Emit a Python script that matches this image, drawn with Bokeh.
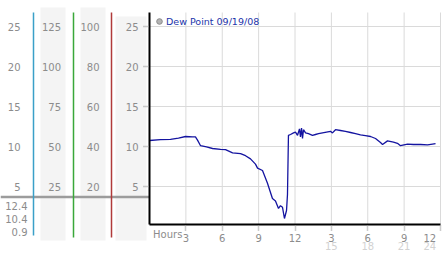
from bokeh.plotting import figure
from bokeh.models import (Range1d, LinearAxis, FixedTicker, Label, Legend,
                          LegendItem)
from bokeh.core.properties import value
from bokeh.embed import file_html
from bokeh.resources import INLINE

# ---------------- data ----------------
hours = [0.0, 0.91, 1.73, 2.39, 2.97, 3.55, 3.79, 3.96, 4.21, 4.70, 5.20, 5.86,
         6.27, 6.85, 7.51, 7.92, 8.33, 8.74, 8.91, 9.32, 9.73, 10.14, 10.39,
         10.64, 10.80, 10.97, 11.13, 11.30, 11.38, 11.46, 11.63, 11.88, 12.04,
         12.21, 12.37, 12.45, 12.54, 12.62, 12.70, 12.87, 13.11, 13.44, 13.69,
         13.94, 14.27, 14.60, 14.93, 15.09, 15.34, 15.75, 16.16, 16.58, 16.99,
         17.40, 17.81, 18.23, 18.64, 19.05, 19.22, 19.63, 20.12, 20.45, 20.70,
         21.28, 21.77, 22.35, 22.93, 23.34, 23.59]
dew_point = [10.75, 10.85, 10.9, 11.05, 11.25, 11.2, 11.2, 10.8, 10.1, 9.95, 9.75,
             9.65, 9.6, 9.2, 9.1, 8.85, 8.45, 7.8, 7.3, 7.0, 5.4, 3.5, 3.2, 2.25,
             2.6, 2.4, 1.0, 2.0, 4.0, 11.4, 11.5, 11.7, 11.8, 11.4, 12.2, 11.2,
             12.3, 11.0, 12.1, 11.7, 11.6, 11.4, 11.5, 11.6, 11.7, 11.8, 11.9,
             11.7, 12.1, 12.0, 11.9, 11.75, 11.6, 11.45, 11.35, 11.25, 11.0,
             10.5, 10.25, 10.7, 10.55, 10.4, 10.1, 10.3, 10.25, 10.25, 10.2,
             10.3, 10.35]

scale_c = [25, 20, 15, 10, 5]          # first column and plot axis
scale_2 = [125, 100, 75, 50, 25]
scale_3 = [100, 80, 60, 40, 20]
readings = ["12.4", "10.4", "0.9"]
x_ticks = [3, 6, 9, 12, 15, 18, 21, 24]
x_tick_labels = ["3", "6", "9", "12", "3", "6", "9", "12\u2007"]
x_ticks2 = [15, 18, 21, 24]
x_tick_labels2 = ["15", "18", "21", "24\u2007"]
legend_label = "Dew Point 09/19/08"

FONT = "DejaVu Sans"
GRAY = "#8c8c8c"
TICK_GRAY = "#9a9a9a"

# ---------------- layout constants (pixels) ----------------
W, H = 442, 253
PLOT_L, PLOT_R = 149, 440          # plot area in page pixels
PLOT_T, PLOT_B = 12, 224
HOURS = 24
Y_LO, Y_HI = 0.25, 26.75           # value span of the plot area
ppx = (PLOT_R - PLOT_L) / HOURS
ppy = (PLOT_B - PLOT_T) / (Y_HI - Y_LO)

def vy(pix):                       # page pixel row -> value on main scale
    return Y_HI + (PLOT_T - pix) / ppy

x_rng = Range1d(-PLOT_L / ppx, (W - PLOT_L) / ppx)
y_rng = Range1d(vy(H), vy(0))

p = figure(width=W, height=H, output_backend="svg", toolbar_location=None,
           x_range=x_rng, y_range=y_rng, min_border=0,
           outline_line_color=None)
p.grid.visible = False
p.extra_x_ranges = {"px": Range1d(0, W)}
p.extra_y_ranges = {"py": Range1d(H, 0)}
k2 = scale_2[0] / scale_c[0]
k3 = scale_3[0] / scale_c[0]
p.extra_y_ranges["s2"] = Range1d(vy(H) * k2, vy(0) * k2)
p.extra_y_ranges["s3"] = Range1d(vy(H) * k3, vy(0) * k3)

# ---- left panel backgrounds ----
p.quad(left=[40, 80, 115], right=[65, 105, 146], top=[7, 7, 16],
       bottom=[240, 240, 240], fill_color="#f4f4f4", line_color=None,
       x_range_name="px", y_range_name="py")
p.segment(x0=[0], x1=[PLOT_L], y0=[196.5], y1=[196.5], line_color="#9c9c9c",
          line_width=2.5, x_range_name="px", y_range_name="py")
p.text(x=[27] * len(readings), y=[205 + 13 * i for i in range(len(readings))],
       text=readings, text_font=value(FONT), text_font_size="10px",
       text_color=GRAY, text_align="right", text_baseline="middle",
       x_range_name="px", y_range_name="py")

def panel_axis(ticks, y_name, loc, color, bottom_px, k, standoff):
    ax = LinearAxis(ticker=FixedTicker(ticks=ticks), x_range_name="px",
                    fixed_location=loc,
                    bounds=(vy(bottom_px) * k, vy(PLOT_T) * k))
    if y_name:
        ax.y_range_name = y_name
    ax.axis_line_color = color
    ax.axis_line_width = 1.5
    ax.major_tick_in = 0
    ax.major_tick_out = 0
    ax.minor_tick_in = 0
    ax.minor_tick_out = 0
    ax.major_tick_line_color = None
    ax.minor_tick_line_color = None
    ax.major_label_standoff = standoff
    ax.major_label_text_font = FONT
    ax.major_label_text_font_size = "10px"
    ax.major_label_text_color = GRAY
    p.add_layout(ax, "left")

panel_axis(scale_c, None, 33, "#3aa0c8", 235, 1, 13)
panel_axis(scale_2, "s2", 72.5, "#3aa83a", 237, k2, 12)
panel_axis(scale_3, "s3", 111, "#b03a3a", 237, k3, 12)

# ---- main plot axes ----
ya = p.yaxis[0]
ya.fixed_location = 0
ya.bounds = (Y_LO, Y_HI)
ya.ticker = FixedTicker(ticks=scale_c)
ya.axis_line_color = "black"
ya.axis_line_width = 2
ya.major_tick_in = 0
ya.major_tick_out = 6
ya.major_tick_line_color = TICK_GRAY
ya.major_tick_line_width = 1.5
ya.major_tick_line_dash = "1 1"
ya.minor_tick_line_color = None
ya.major_label_standoff = 5
ya.major_label_text_font = FONT
ya.major_label_text_font_size = "10px"
ya.major_label_text_color = GRAY

xa = p.xaxis[0]
xa.fixed_location = Y_LO
xa.bounds = (0, HOURS)
xa.ticker = FixedTicker(ticks=x_ticks)
xa.major_label_overrides = {t: l for t, l in zip(x_ticks, x_tick_labels)}
xa.axis_line_color = "black"
xa.axis_line_width = 2
xa.major_tick_in = 0
xa.major_tick_out = 6
xa.major_tick_line_color = TICK_GRAY
xa.major_tick_line_width = 1.5
xa.major_tick_line_dash = "1 1"
xa.minor_tick_line_color = None
xa.major_label_standoff = 2
xa.major_label_text_font = FONT
xa.major_label_text_font_size = "10px"
xa.major_label_text_color = GRAY

xa2 = LinearAxis(ticker=FixedTicker(ticks=x_ticks2), fixed_location=Y_LO,
                 major_label_overrides={t: l for t, l in zip(x_ticks2, x_tick_labels2)})
xa2.axis_line_color = None
xa2.major_tick_in = 0
xa2.major_tick_out = 0
xa2.minor_tick_in = 0
xa2.minor_tick_out = 0
xa2.major_tick_line_color = None
xa2.minor_tick_line_color = None
xa2.major_label_standoff = 16
xa2.major_label_text_font = FONT
xa2.major_label_text_font_size = "10px"
xa2.major_label_text_color = "#d2d2d2"
p.add_layout(xa2, "below")

p.add_layout(Label(x=1.5, y=vy(228), text="Hours", text_font=FONT,
                   text_font_size="10px", text_color=GRAY, text_align="center",
                   text_baseline="top"))

# ---- grid (from tick arrays) ----
p.segment(x0=[0] * len(scale_c), x1=[HOURS] * len(scale_c), y0=scale_c,
          y1=scale_c, line_color="#dadada", line_width=1)
p.segment(x0=x_ticks, x1=x_ticks, y0=[Y_LO] * len(x_ticks),
          y1=[Y_HI] * len(x_ticks), line_color="#dadada", line_width=1)

# ---- data ----
p.line(hours, dew_point, line_color="#1414a0", line_width=1.3)
marker = p.scatter([float("nan")], [float("nan")], marker="circle", size=6,
                   fill_color="#b4b4b4", line_color="#8c8c8c")
legend = Legend(items=[LegendItem(label=legend_label, renderers=[marker])],
                location=(PLOT_L + 3, H - 28), label_text_font=FONT,
                label_text_font_size="9.5px", label_text_color="#2233aa",
                border_line_color=None, background_fill_alpha=0,
                padding=0, margin=0, glyph_width=14, glyph_height=14,
                label_standoff=0, label_height=10)
p.add_layout(legend)

open("out.html", "w").write(file_html(p, INLINE))
